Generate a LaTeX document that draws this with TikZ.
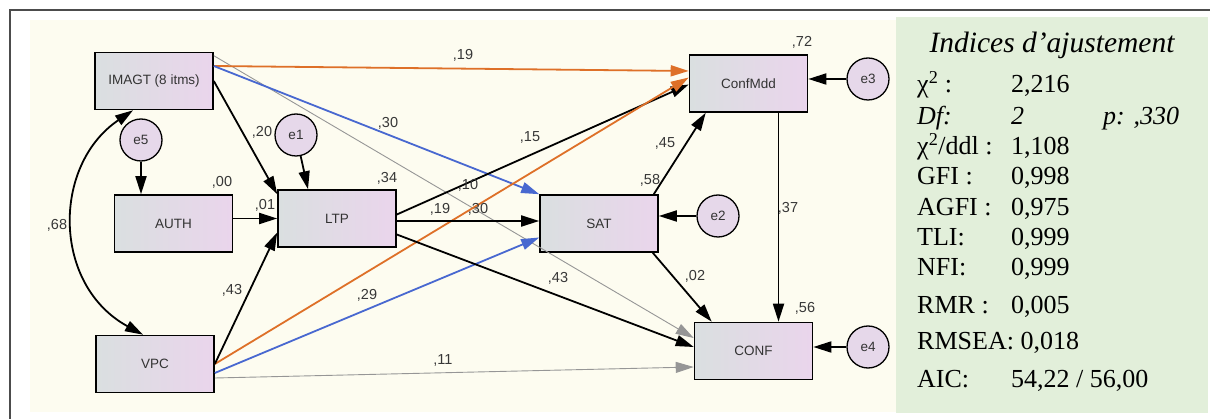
\documentclass[tikz,border=0pt]{standalone}
\usepackage{fontspec}
\setmainfont{Liberation Serif}
\setsansfont{Liberation Sans}
\usetikzlibrary{arrows.meta}
\definecolor{cream}{RGB}{253,252,240}
\definecolor{panel}{RGB}{226,239,218}
\definecolor{boxl}{RGB}{218,223,224}
\definecolor{boxr}{RGB}{234,213,236}
\definecolor{errfill}{RGB}{230,216,234}
\definecolor{orangepath}{RGB}{222,112,40}
\definecolor{bluepath}{RGB}{72,104,208}
\definecolor{graypath}{RGB}{150,150,150}
\definecolor{coefcol}{RGB}{55,55,55}
\begin{document}
\begin{tikzpicture}[x=1pt, y=-1pt, font=\sffamily,
          tip/.style={-{Triangle[length=18pt,width=11pt]}},
          var/.style={rectangle, draw=black, line width=1.6pt, left color=boxl, right color=boxr, minimum width=118pt, minimum height=57pt, inner sep=0pt, text=black!80, font=\sffamily\fontsize{13.5}{15}\selectfont},
          err/.style={circle, draw=black, line width=1.3pt, fill=errfill, minimum size=42pt, inner sep=0pt, text=black!80, font=\sffamily\fontsize{13.5}{15}\selectfont},
          reg/.style={tip, line width=1.8pt},
          regor/.style={tip, line width=1.8pt, orangepath},
          regbl/.style={tip, line width=1.8pt, bluepath},
          reggr/.style={tip, line width=0.9pt, graypath},
          cov/.style={{Triangle[length=18pt,width=11pt]}-{Triangle[length=18pt,width=11pt]}, line width=1.8pt},
          coef/.style={text=coefcol, font=\sffamily\fontsize{14.5}{16}\selectfont, inner sep=0pt},
          idx/.style={anchor=base west, inner sep=0pt, font=\rmfamily\fontsize{26}{28}\selectfont}]
        \useasboundingbox (0,0) rectangle (1210,419);
        \fill[cream] (30,20) rectangle (896,412);
        \fill[panel] (896,17) rectangle (1208,413);
        \draw[line width=1.3pt, black!70] (10,419) -- (10,10) -- (1210,10);
        \node[var] (IMAGT) at (154,81) {IMAGT (8 itms)};
        \node[var] (AUTH) at (173.5,223.5) {AUTH};
        \node[var] (LTP) at (337,218.5) {LTP};
        \node[var] (VPC) at (155,364) {VPC};
        \node[var] (SAT) at (599,223.5) {SAT};
        \node[var] (ConfMdd) at (748.5,83.5) {ConfMdd};
        \node[var] (CONF) at (753.5,351) {CONF};
        \node[err] (e1) at (296,135) {e1};
        \node[err] (e2) at (718,216) {e2};
        \node[err] (e3) at (868,79) {e3};
        \node[err] (e4) at (868,347) {e4};
        \node[err] (e5) at (141,140) {e5};
        \draw[reggr] ([yshift=-4pt]IMAGT.north east) -- ([yshift=13pt]CONF.west);
        \draw[reggr] ([yshift=-14pt]VPC.east) -- ([yshift=-16pt]CONF.west);
        \draw[regor] ([yshift=15pt]IMAGT.east) -- ([yshift=12.5pt]ConfMdd.west);
        \draw[regbl] ([yshift=15pt]IMAGT.east) -- (SAT.north west);
        \draw[regbl] ([yshift=-9pt]VPC.east) -- ([yshift=-14pt]SAT.west);
        \draw[reg] ([yshift=4pt]LTP.east) -- ([yshift=-1pt]ConfMdd.west);
        \draw[regor] (VPC.east) -- ([yshift=6pt]ConfMdd.west);
        \draw[reg] (IMAGT.east) -- ([yshift=-5pt]LTP.north west);
        \draw[reg] ([yshift=5pt]AUTH.east) -- (LTP.west);
        \draw[reg] (VPC.east) -- ([yshift=-14pt]LTP.west);
        \draw[reg] ([yshift=-2.5pt]LTP.east) -- ([yshift=2.5pt]SAT.west);
        \draw[reg] ([yshift=-16pt]LTP.east) -- ([yshift=4pt]CONF.west);
        \draw[reg] ([xshift=-5pt]SAT.north east) -- ([xshift=17pt]ConfMdd.south west);
        \draw[reg] ([xshift=-6pt]SAT.south east) -- ([xshift=18pt]CONF.north west);
        \draw[reg] ([xshift=30pt]ConfMdd.south) -- ([xshift=25pt]CONF.north);
        \draw[reg] (e1) -- ([xshift=-29pt]LTP.north);
        \draw[reg] (e2) -- (e2 -| SAT.east);
        \draw[reg] (e3) -- (e3 -| ConfMdd.east);
        \draw[reg] (e4) -- (e4 -| CONF.east);
        \draw[reg] (e5) -- (e5 |- AUTH.north);
        \draw[cov] ([xshift=-21pt]IMAGT.south) .. controls (52,165) and (52,285) .. ([xshift=-12pt]VPC.north);
        \node[coef] (c68) at (57,225) {,68};
        \node[coef] (c00) at (222,182) {,00};
        \node[coef] (c20) at (262,132) {,20};
        \node[coef] (c01) at (265,205) {,01};
        \node[coef] (c34) at (387,178) {,34};
        \node[coef] (c30a) at (388,123) {,30};
        \node[coef] (c43a) at (232,290) {,43};
        \node[coef] (c29) at (367,295) {,29};
        \node[coef] (c19a) at (463,55) {,19};
        \node[coef] (c15) at (530,137) {,15};
        \node[coef] (c10) at (468,185) {,10};
        \node[coef] (c19b) at (440,209) {,19};
        \node[coef] (c30b) at (478,209) {,30};
        \node[coef] (c58) at (650,180) {,58};
        \node[coef] (c45) at (665,143) {,45};
        \node[coef] (c72) at (802,42) {,72};
        \node[coef] (c37) at (788,208) {,37};
        \node[coef] (c56) at (805,308) {,56};
        \node[coef] (c02) at (695,276) {,02};
        \node[coef] (c43b) at (558,278) {,43};
        \node[coef] (c11) at (443,360) {,11};
        \node[idx, anchor=base, font=\rmfamily\itshape\fontsize{29.5}{31}\selectfont] (title) at (1052,53) {Indices d’ajustement};
        \node[idx] (k1) at (917,93) {χ\textsuperscript{2} :};
        \node[idx] (v1) at (1011,93) {2,216};
        \node[idx] (k2) at (917,125) {\itshape Df:};
        \node[idx] (v2) at (1011,125) {\itshape 2};
        \node[idx] (p2) at (1103,125) {\itshape p: ,330};
        \node[idx] (k3) at (917,155) {χ\textsuperscript{2}/ddl :};
        \node[idx] (v3) at (1011,155) {1,108};
        \node[idx] (k4) at (917,185) {GFI :};
        \node[idx] (v4) at (1011,185) {0,998};
        \node[idx] (k5) at (917,216) {AGFI :};
        \node[idx] (v5) at (1011,216) {0,975};
        \node[idx] (k6) at (917,246) {TLI:};
        \node[idx] (v6) at (1011,246) {0,999};
        \node[idx] (k7) at (917,276) {NFI:};
        \node[idx] (v7) at (1011,276) {0,999};
        \node[idx] (k8) at (917,314) {RMR :};
        \node[idx] (v8) at (1011,314) {0,005};
        \node[idx] (k9) at (917,350) {RMSEA: 0,018};
        \node[idx] (k10) at (917,388) {AIC:};
        \node[idx] (v10) at (1011,388) {54,22 / 56,00};
      \end{tikzpicture}
\end{document}
